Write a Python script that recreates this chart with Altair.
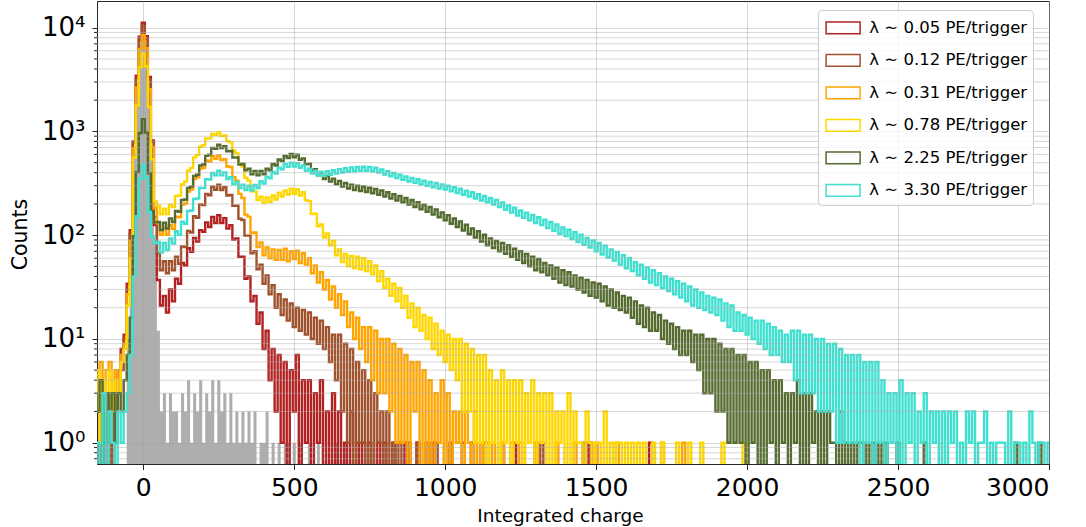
import altair as alt
import pandas as pd

# Histogram contents: 10-unit bins centred on -160, -150, ..., 3000.
# Lists stop where the histogram becomes empty; the rest is zero.
FIRST_BIN = -160
BIN_WIDTH = 10
N_BINS = 317

series_labels = [
    "λ ∼ 0.05 PE/trigger",
    "λ ∼ 0.12 PE/trigger",
    "λ ∼ 0.31 PE/trigger",
    "λ ∼ 0.78 PE/trigger",
    "λ ∼ 2.25 PE/trigger",
    "λ ∼ 3.30 PE/trigger",
]
series_colors = ["#b22222", "#a0522d", "#ffa500", "#ffd700", "#556b2f", "#40e0d0"]

counts_005 = [
    1, 0, 1, 0, 2, 0, 1, 2, 5, 8, 11,
    34, 112, 800, 3450, 8200, 11200, 8300, 3350, 820, 125,
    37, 21, 26, 18, 30, 23, 38, 34, 54, 51,
    75, 69, 94, 87, 112, 108, 133, 120, 150, 131,
    156, 131, 146, 116, 125, 91, 93, 62, 62, 38,
    40, 23, 26, 14, 18, 8, 12, 4, 8, 2,
    7, 1, 6, 0, 5, 2, 7, 0, 4, 1,
    4, 0, 3, 1, 4, 0, 2, 0, 3, 0,
    2, 0, 1, 0, 2, 0, 1, 0, 1, 0,
    1, 0, 0, 1, 0, 1, 0, 0, 1, 0,
    0, 0, 1, 0, 0, 0, 1, 0, 0, 0,
    0, 1, 0, 0, 0, 0, 0, 1, 0, 0,
    0, 0, 0, 0, 1, 0, 0, 0, 0, 0,
    0, 0, 0, 0, 0, 0, 0, 0, 1, 0,
    0, 0, 0, 0, 0, 1, 0, 0, 0, 0,
    0, 0, 0, 0, 0, 0, 0, 0, 0, 0,
    0, 0, 0, 1, 0, 0, 0, 0, 0, 0,
    0, 0, 0, 0, 0, 0, 0, 0, 0, 0,
    0, 0, 0, 1, 0, 0, 0, 0, 0, 0,
]

counts_012 = [
    1, 0, 2, 0, 1, 3, 0, 2, 3, 5, 10,
    30, 104, 780, 3250, 7650, 10400, 7750, 3150, 800, 150,
    67, 46, 56, 43, 56, 46, 62, 53, 78, 77,
    110, 106, 152, 147, 198, 195, 250, 243, 294, 274,
    307, 273, 290, 241, 244, 192, 192, 144, 140, 99,
    99, 67, 70, 47, 52, 34, 41, 27, 33, 20,
    27, 17, 24, 15, 22, 13, 20, 12, 19, 11,
    18, 10, 16, 9, 15, 8, 13, 6, 11, 4,
    11, 2, 9, 1, 8, 0, 6, 1, 5, 0,
    4, 0, 3, 1, 2, 0, 2, 0, 1, 0,
    1, 0, 0, 1, 0, 0, 1, 0, 0, 1,
    0, 0, 1, 0, 0, 0, 0, 1, 0, 0,
    0, 1, 0, 0, 0, 0, 0, 0, 1, 0,
    0, 0, 0, 0, 1, 0, 0, 0, 0, 0,
    0, 0, 0, 0, 0, 0, 0, 1, 0, 0,
    0, 0, 0, 0, 0, 0, 0, 0, 0, 0,
    0, 1, 0, 0, 0, 0, 0, 0, 0, 0,
]

counts_031 = [
    3, 4, 6, 1, 5, 6, 2, 5, 4, 7, 9,
    27, 88, 690, 2650, 6250, 8500, 6350, 2550, 710, 182,
    130, 101, 117, 101, 125, 115, 151, 149, 197, 202,
    264, 275, 347, 362, 438, 445, 525, 514, 576, 544,
    586, 529, 541, 460, 454, 363, 336, 250, 228, 158,
    151, 105, 106, 77, 85, 64, 76, 60, 73, 58,
    72, 58, 74, 56, 70, 59, 71, 54, 67, 52,
    60, 43, 51, 35, 44, 30, 37, 24, 32, 20,
    27, 17, 23, 13, 18, 10, 16, 8, 13, 6,
    13, 4, 12, 3, 10, 3, 10, 2, 9, 1,
    8, 1, 7, 0, 6, 2, 6, 0, 5, 0,
    4, 0, 3, 1, 4, 0, 3, 0, 2, 1,
    2, 0, 2, 1, 0, 2, 0, 1, 0, 1,
    0, 1, 0, 0, 1, 0, 0, 1, 0, 0,
    1, 0, 0, 0, 0, 1, 0, 0, 0, 0,
    0, 0, 1, 0, 0, 0, 0, 0, 1, 0,
    0, 0, 0, 0, 0, 1, 0, 0, 0, 0,
    0, 0, 1, 0, 0, 0, 0, 0, 0, 0,
    0, 0, 0, 0, 0, 0, 0, 1, 0, 0,
    0, 0, 0, 0, 1, 0, 0, 0, 0, 0,
]

counts_078 = [
    2, 5, 1, 4, 3, 5, 2, 4, 3, 6, 8,
    21, 60, 560, 1780, 4150, 5650, 4250, 1720, 540, 212,
    192, 159, 180, 160, 197, 187, 239, 241, 310, 328,
    418, 445, 561, 593, 713, 735, 856, 858, 953, 922,
    978, 902, 917, 804, 785, 656, 617, 494, 459, 358,
    336, 265, 264, 218, 235, 205, 231, 209, 242, 221,
    257, 236, 270, 247, 280, 251, 277, 241, 259, 217,
    213, 160, 161, 122, 127, 95, 104, 80, 88, 64,
    73, 55, 66, 50, 63, 48, 62, 47, 60, 45,
    56, 42, 51, 36, 45, 31, 38, 26, 34, 23,
    31, 20, 26, 16, 22, 13, 20, 12, 17, 10,
    16, 8, 14, 7, 12, 6, 11, 5, 10, 4,
    10, 2, 9, 2, 8, 1, 7, 1, 7, 0,
    5, 1, 4, 0, 5, 1, 4, 0, 4, 1,
    4, 0, 3, 1, 4, 0, 3, 1, 3, 0,
    3, 0, 2, 1, 2, 0, 3, 0, 2, 1,
    1, 0, 2, 1, 0, 1, 1, 0, 2, 0,
    1, 0, 1, 1, 0, 1, 0, 1, 0, 1,
    0, 1, 0, 0, 1, 0, 0, 1, 0, 0,
    0, 0, 1, 0, 0, 0, 1, 0, 0, 0,
    1, 0, 0, 0, 0, 0, 0, 1, 0, 0,
    0, 0, 0, 0, 1, 0, 0, 0, 0, 0,
]

counts_225 = [
    3, 2, 4, 1, 3, 2, 3, 1, 3, 2, 4,
    7, 16, 98, 405, 965, 1310, 975, 395, 168, 133,
    134, 112, 132, 116, 145, 134, 171, 168, 218, 221,
    285, 294, 372, 382, 469, 480, 581, 598, 693, 681,
    744, 691, 719, 642, 647, 559, 561, 480, 485, 421,
    438, 387, 416, 377, 416, 387, 438, 421, 485, 470,
    536, 519, 581, 554, 607, 563, 596, 534, 550, 481,
    490, 421, 433, 377, 397, 348, 372, 328, 351, 309,
    334, 294, 319, 282, 307, 273, 300, 267, 295, 261,
    287, 253, 279, 245, 270, 236, 259, 226, 249, 216,
    239, 207, 228, 197, 218, 187, 208, 178, 197, 168,
    187, 158, 177, 149, 166, 139, 156, 129, 145, 120,
    136, 111, 126, 102, 116, 95, 109, 87, 101, 80,
    93, 75, 88, 70, 84, 66, 80, 62, 74, 58,
    70, 54, 66, 50, 62, 46, 59, 44, 54, 41,
    51, 38, 49, 35, 46, 33, 44, 32, 41, 30,
    39, 28, 37, 26, 35, 25, 34, 23, 32, 21,
    30, 20, 28, 19, 26, 18, 25, 16, 23, 14,
    21, 13, 20, 12, 18, 12, 17, 10, 15, 9,
    14, 8, 13, 7, 12, 7, 12, 6, 11, 5,
    11, 3, 10, 3, 10, 2, 9, 2, 8, 1,
    8, 1, 7, 1, 7, 0, 6, 1, 6, 0,
    5, 0, 5, 1, 4, 0, 4, 1, 3, 0,
    3, 1, 4, 0, 3, 0, 3, 1, 2, 0,
    2, 0, 2, 1, 1, 0, 2, 0, 1, 0,
    1, 0, 1, 1, 0, 1, 0, 1, 0, 1,
    0, 1, 0, 0, 0, 1, 0, 0, 0, 0,
    0, 0, 0, 0, 1, 0, 0, 0, 0, 0,
    0, 0, 0, 0, 0, 0, 0, 0, 0, 0,
    0, 0, 0, 0, 0, 0, 0, 0, 0, 0,
    0, 0, 0, 0, 1, 0, 0, 0, 0, 0,
    0, 0, 1, 0, 0, 0,
]

counts_330 = [
    0, 1, 0, 3, 0, 2, 1, 0, 2, 1, 2,
    3, 7, 40, 152, 350, 475, 360, 168, 97, 84,
    86, 68, 84, 72, 93, 83, 109, 101, 135, 129,
    171, 173, 223, 226, 285, 284, 347, 343, 397, 377,
    418, 377, 403, 348, 362, 309, 326, 284, 307, 272,
    300, 270, 305, 284, 331, 314, 367, 353, 408, 392,
    448, 431, 485, 455, 500, 460, 495, 446, 469, 417,
    438, 392, 418, 377, 410, 374, 413, 382, 423, 392,
    433, 402, 443, 409, 450, 414, 454, 417, 456, 418,
    455, 414, 447, 401, 430, 385, 414, 370, 397, 355,
    382, 341, 369, 329, 357, 319, 346, 309, 336, 299,
    326, 290, 318, 282, 309, 275, 300, 265, 290, 255,
    280, 245, 269, 236, 259, 226, 249, 216, 239, 207,
    228, 197, 218, 187, 207, 176, 194, 165, 184, 155,
    173, 147, 165, 139, 157, 131, 149, 125, 141, 117,
    134, 110, 127, 103, 119, 98, 113, 92, 107, 86,
    101, 81, 94, 76, 89, 70, 84, 65, 79, 61,
    73, 57, 69, 52, 64, 48, 60, 45, 55, 41,
    52, 38, 49, 35, 46, 33, 43, 31, 40, 29,
    38, 27, 36, 25, 34, 23, 32, 21, 30, 20,
    28, 19, 26, 18, 25, 17, 24, 15, 22, 13,
    21, 12, 18, 12, 17, 11, 16, 10, 15, 9,
    15, 8, 14, 7, 13, 7, 12, 6, 11, 6,
    12, 4, 12, 3, 11, 3, 11, 3, 10, 2,
    10, 2, 9, 2, 9, 1, 8, 1, 7, 1,
    7, 1, 7, 0, 6, 1, 6, 0, 6, 1,
    4, 0, 3, 1, 3, 0, 4, 0, 3, 1,
    3, 0, 2, 1, 3, 0, 2, 1, 2, 0,
    2, 0, 2, 1, 2, 0, 1, 0, 2, 1,
    2, 0, 1, 1, 2, 0, 1, 0, 1, 1,
    1, 0, 2, 0, 1, 1, 0, 1, 0, 2,
    1, 0, 1, 1, 0, 1,
]

# Pedestal-only reference histogram, drawn filled in grey
pedestal_counts = [
    0, 0, 0, 0, 0, 0, 0, 0, 0, 0, 0,
    10, 92, 700, 3000, 7400, 9700, 7300, 2950, 690, 88,
    12, 2, 3, 1, 3, 2, 2, 1, 3, 2,
    4, 1, 3, 2, 4, 1, 3, 2, 4, 1,
    4, 2, 3, 1, 3, 1, 2, 1, 2, 1,
    2, 1, 2, 0, 1, 1, 2, 0, 1, 0,
    1, 0, 1, 1, 0, 1, 0, 1, 0, 0,
    1, 0, 0, 1, 0, 0, 0, 0, 0, 1,
    0, 0, 1, 0, 0, 0, 0, 0, 0, 0,
]

all_counts = [counts_005, counts_012, counts_031, counts_078, counts_225, counts_330]


def to_frame(counts, label):
    padded = list(counts) + [0] * (N_BINS - len(counts))
    return pd.DataFrame({
        "charge": [FIRST_BIN + BIN_WIDTH * i for i in range(N_BINS)],
        "counts": padded,
        "series": label,
    })


hist = pd.concat([to_frame(c, l) for c, l in zip(all_counts, series_labels)], ignore_index=True)
pedestal = to_frame(pedestal_counts, "pedestal")

# Minor decade positions for the log axis (2..9 x 10^k)
minor_values = [m * 10.0 ** e for e in range(-1, 5) for m in range(2, 10)]
minor_values = [v for v in minor_values if 0.623 <= v <= 18085]
minor = pd.DataFrame({"shown": minor_values})

FONT = "DejaVu Sans"
GRID = "#b0b0b0"
x_scale = alt.Scale(domain=[-153.4, 3000], nice=False, zero=False)
y_scale = alt.Scale(type="log", domain=[0.623, 18085], nice=False)

x_enc = alt.X(
    "charge:Q", scale=x_scale,
    axis=alt.Axis(
        values=[0, 500, 1000, 1500, 2000, 2500, 3000], format="d",
        title="Integrated charge", titleX=463, titleY=57,
        titleAlign="center", titleBaseline="alphabetic", titleFontSize=18.5,
        labelPadding=6, tickSize=5.5,
    ),
)
y_axis = alt.Axis(
    values=[1, 10, 100, 1000, 10000],
    labelExpr=(
        "datum.value >= 5000 ? '10⁴' : datum.value >= 500 ? '10³' : "
        "datum.value >= 50 ? '10²' : datum.value >= 5 ? '10¹' : '10⁰'"
    ),
    labelFontSize=26,
    title="Counts", titleX=-71, titleY=233, titleAngle=270,
    titleAlign="center", titleBaseline="alphabetic", titleFontSize=20.5,
    labelPadding=7, tickSize=5,
)
y_enc = alt.Y("shown:Q", scale=y_scale, axis=y_axis)

legend = alt.Legend(
    title=None, orient="none", legendX=721, legendY=9,
    symbolType="M-0.86,-0.51L2.14,-0.51L2.14,0.51L-0.86,0.51Z",
    symbolSize=514, symbolStrokeWidth=1.5, symbolFillColor="transparent",
    labelFont=FONT, labelFontSize=16.5, labelColor="#000000", labelOffset=21,
    padding=5.35, rowPadding=10.5,
    fillColor="rgba(255,255,255,0.8)", strokeColor="#cccccc", cornerRadius=4,
    zindex=2,
)
color_enc = alt.Color(
    "series:N",
    scale=alt.Scale(domain=series_labels, range=series_colors),
    legend=legend,
)

pedestal_layer = (
    alt.Chart(pedestal)
    .transform_calculate(shown="max(datum.counts, 0.3)")
    .mark_area(interpolate="step", color="#a0a0a0", opacity=0.85, clip=True)
    .encode(x=x_enc, y=y_enc, y2=alt.datum(0.3))
)

line_layers = [
    alt.Chart(hist)
    .transform_filter(alt.datum.series == label)
    .transform_calculate(shown="max(datum.counts, 0.3)")
    .mark_line(interpolate="step", strokeWidth=2.4, clip=True)
    .encode(x=x_enc, y=y_enc, color=color_enc)
    for label in series_labels
]

# Minor grid lines and short minor ticks on the log axis
minor_grid = (
    alt.Chart(minor)
    .mark_rule(color=GRID, opacity=0.5, strokeWidth=1)
    .encode(y=y_enc)
)
minor_ticks = (
    alt.Chart(minor)
    .mark_rule(color="#262626", strokeWidth=1, clip=False)
    .encode(y=y_enc, x=alt.value(-3), x2=alt.value(0))
)

chart = (
    alt.layer(pedestal_layer, *line_layers, minor_grid, minor_ticks)
    .properties(
        width=952, height=463,
        autosize=alt.AutoSizeParams(type="none"),
        padding={"left": 97, "top": 1, "right": 37, "bottom": 63},
    )
    .configure_view(stroke="#262626", strokeWidth=1)
    .configure_axis(
        labelFont=FONT, labelFontSize=25, labelColor="#000000",
        titleFont=FONT, titleFontSize=19, titleFontWeight="normal", titleColor="#000000",
        tickColor="#262626", tickWidth=1,
        domainColor="#262626", domainWidth=1,
        grid=True, gridColor=GRID, gridOpacity=0.5, gridWidth=1,
        zindex=1,
    )
)

chart.save("out.html", embed_options={"renderer": "svg", "actions": False})
